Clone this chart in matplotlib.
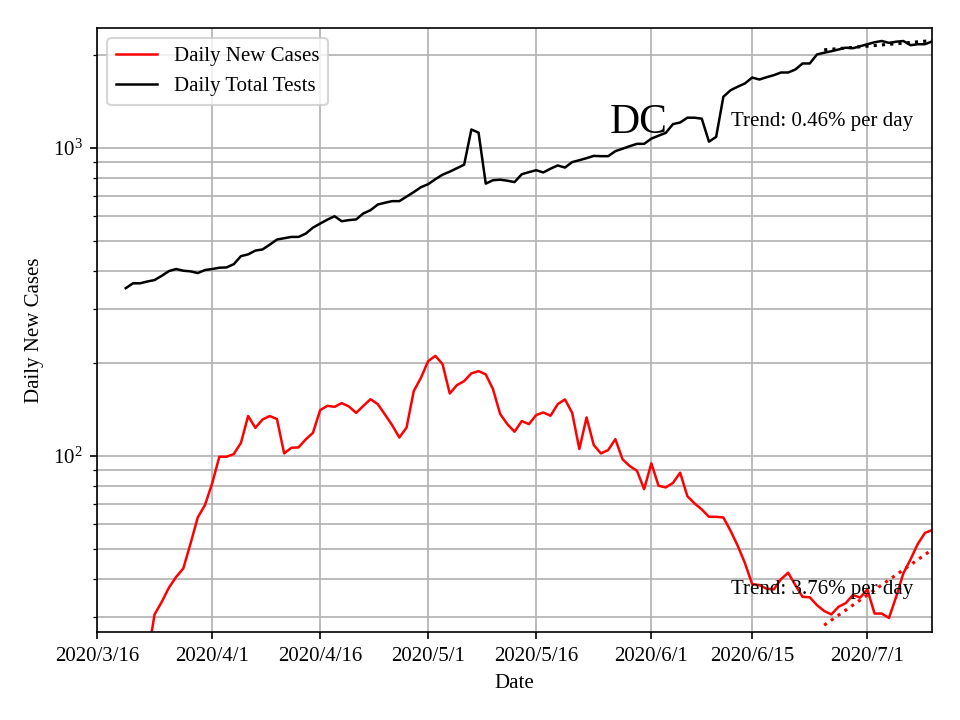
import matplotlib
matplotlib.use("Agg")
import matplotlib.pyplot as plt
import numpy as np
import pandas as pd

plt.rcParams['font.family'] = ['Liberation Serif', 'DejaVu Serif']
plt.rcParams['mathtext.fontset'] = 'stix'

# daily series, starting 2020/3/20
start = '2020-03-20'
tests = [351, 364, 364, 369, 373, 385, 399, 405, 400, 398,
         393, 402, 405, 409, 410, 420, 446, 452, 465, 469,
         486, 505, 510, 515, 515, 528, 552, 569, 586, 601,
         579, 584, 587, 614, 629, 656, 665, 673, 673, 696,
         720, 747, 764, 793, 820, 839, 861, 884, 1150, 1123,
         767, 787, 790, 784, 776, 823, 836, 848, 834, 858,
         879, 865, 901, 914, 928, 944, 942, 942, 978, 996,
         1015, 1033, 1033, 1074, 1098, 1121, 1197, 1212, 1256, 1256,
         1247, 1050, 1088, 1469, 1542, 1584, 1623, 1696, 1671, 1700,
         1726, 1761, 1761, 1801, 1884, 1884, 2015, 2042, 2065, 2092,
         2120, 2112, 2143, 2176, 2208, 2229, 2198, 2217, 2229, 2160,
         2176, 2176, 2222]
cases = [12, 15, 18, 22, 30.6, 33.6, 37.4, 40.5, 43.2, 52.0,
         63.2, 69.3, 81.5, 99.5, 99.5, 101.5, 110.4, 135, 123.5, 131.5,
         134.9, 131.9, 102, 106.4, 106.7, 113.3, 119, 141, 145.6, 144.5,
         148.6, 144.9, 138.1, 145.6, 153, 147.5, 136.5, 126, 114.9, 123.8,
         162.6, 179.6, 203.4, 211.6, 198.9, 159.7, 170, 175.2, 185.6, 188.8,
         184.2, 165.1, 137, 127, 120, 129.9, 127, 135.9, 138.6, 135.2,
         147.5, 152.8, 138.2, 105.4, 133.5, 108.6, 102, 104.6, 113.5, 97.6,
         92.8, 89.6, 78.1, 94.7, 80.1, 79.1, 81.8, 88.3, 74.1, 70.2,
         67.1, 63.5, 63.5, 63.2, 57.2, 51.1, 44.9, 38.4, 38.1, 37.1,
         36.9, 39.8, 41.8, 38.1, 34.9, 34.8, 32.8, 31.4, 30.6, 32.4,
         33.3, 35.4, 34.7, 36.9, 30.8, 30.8, 29.8, 34.9, 41.6, 46.2,
         51.8, 56.3, 57.5]

tick_dates = ['2020-03-16', '2020-04-01', '2020-04-16', '2020-05-01',
              '2020-05-16', '2020-06-01', '2020-06-15', '2020-07-01']
tick_labels = ['2020/3/16', '2020/4/1', '2020/4/16', '2020/5/1',
               '2020/5/16', '2020/6/1', '2020/6/15', '2020/7/1']
trend_days = 16

dates = pd.date_range(start, periods=len(tests))
tests = np.array(tests, float)
cases = np.array(cases, float)

fig, ax = plt.subplots(figsize=(6.4, 4.8), dpi=150)
fig.subplots_adjust(left=0.101, right=0.971, bottom=0.122, top=0.961)

ax.plot(dates, cases, 'r-', lw=1.2, label='Daily New Cases')
ax.plot(dates, tests, 'k-', lw=1.2, label='Daily Total Tests')

# log-linear fit over the last days
t = np.arange(trend_days)
for y, c in [(cases, 'r'), (tests, 'k')]:
    p = np.polyfit(t, np.log10(y[-trend_days:]), 1)
    ax.plot(dates[-trend_days:], 10 ** np.polyval(p, t), c + ':', lw=1.5)

ax.set_yscale('log')
ax.set_xlim(pd.Timestamp('2020-03-16'), pd.Timestamp('2020-07-10'))
ax.set_ylim(26.8, 2455)
ax.set_xticks(pd.to_datetime(tick_dates))
ax.set_xticklabels(tick_labels)
ax.grid(True, which='both', color='#b0b0b0', lw=0.8)

ax.text(pd.Timestamp('2020-06-12'), 1180, 'Trend: 0.46% per day', fontsize=10)
ax.text(pd.Timestamp('2020-06-12'), 35.6, 'Trend: 3.76% per day', fontsize=10)
ax.text(0.614, 0.826, 'DC', fontsize=20, transform=ax.transAxes)

ax.set_xlabel('Date')
ax.set_ylabel('Daily New Cases')
ax.legend(loc='upper left')

plt.savefig('out.png')
